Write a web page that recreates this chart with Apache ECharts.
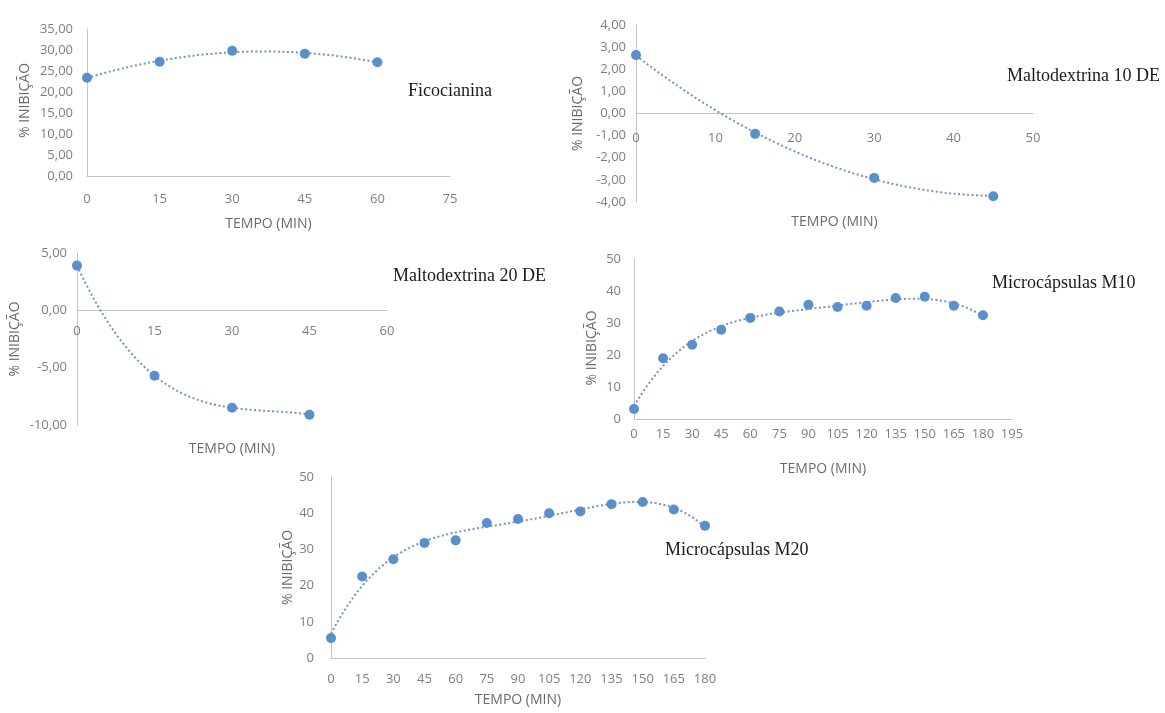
<!DOCTYPE html>
<html>
<head>
<meta charset="utf-8">
<script src="https://cdn.jsdelivr.net/npm/echarts@6/dist/echarts.min.js"></script>
<style>html,body{margin:0;padding:0;background:#fff}#c{width:1165px;height:713px}</style>
</head>
<body>
<div id="c"></div>
<script>
// ---- data ----
const ficoX = [0, 15, 30, 45, 60];
const ficoY = [23.4, 27.2, 29.8, 29.1, 27.1];
const m10deX = [0, 15, 30, 45];
const m10deY = [2.64, -0.92, -2.91, -3.74];
const m20deX = [0, 15, 30, 45];
const m20deY = [3.9, -5.7, -8.5, -9.1];
const mcX = [0, 15, 30, 45, 60, 75, 90, 105, 120, 135, 150, 165, 180];
const mc10Y = [3.1, 19.0, 23.2, 27.9, 31.6, 33.6, 35.7, 35.0, 35.4, 37.8, 38.2, 35.4, 32.4];
const mc20Y = [5.5, 22.5, 27.3, 31.8, 32.5, 37.3, 38.4, 40.0, 40.5, 42.5, 43.1, 41.0, 36.5];
const titles = ['Ficocianina', 'Maltodextrina 10 DE', 'Maltodextrina 20 DE', 'Microcápsulas M10', 'Microcápsulas M20'];
const xTitle = 'TEMPO (MIN)';
const yTitle = '% INIBIÇÃO';

// ---- polynomial least squares trendline (from the data) ----
function polyfit(xs, ys, deg, scale) {
  const n = deg + 1;
  const A = [];
  for (let i = 0; i < n; i++) { A.push(new Array(n + 1).fill(0)); }
  xs.forEach((x0, k) => {
    const x = x0 / scale;
    for (let i = 0; i < n; i++) {
      for (let j = 0; j < n; j++) A[i][j] += Math.pow(x, i + j);
      A[i][n] += ys[k] * Math.pow(x, i);
    }
  });
  for (let i = 0; i < n; i++) {
    let p = i;
    for (let r = i + 1; r < n; r++) if (Math.abs(A[r][i]) > Math.abs(A[p][i])) p = r;
    [A[i], A[p]] = [A[p], A[i]];
    for (let r = 0; r < n; r++) {
      if (r === i) continue;
      const f = A[r][i] / A[i][i];
      for (let c = i; c <= n; c++) A[r][c] -= f * A[i][c];
    }
  }
  const coef = A.map((row, i) => row[n] / row[i]);
  return x => coef.reduce((s, c, i) => s + c * Math.pow(x / scale, i), 0);
}
function trend(xs, ys, deg) {
  const f = polyfit(xs, ys, deg, xs[xs.length - 1]);
  const out = [];
  const x0 = xs[0], x1 = xs[xs.length - 1];
  for (let i = 0; i <= 120; i++) { const x = x0 + (x1 - x0) * i / 120; out.push([x, f(x)]); }
  return out;
}

const panels = [
  {xs: ficoX, ys: ficoY, deg: 2, grid: {left: 87, top: 29, width: 363, height: 147},
   x: {min: 0, max: 75, interval: 15, margin: 17, nameGap: 41}, y: {min: 0, max: 35, interval: 5, margin: 14, nameGap: 55, dec: true, pad: 4},
   t: [408, 93]},
  {xs: m10deX, ys: m10deY, deg: 2, grid: {left: 636, top: 25, width: 397, height: 177},
   x: {min: 0, max: 50, interval: 10, margin: 18, nameGap: 102}, y: {min: -4, max: 4, interval: 1, margin: 10, nameGap: 51, dec: true, pad: 0},
   t: [1007, 78]},
  {xs: m20deX, ys: m20deY, deg: 3, grid: {left: 77, top: 253, width: 310, height: 172},
   x: {min: 0, max: 60, interval: 15, margin: 14, nameGap: 132}, y: {min: -10, max: 5, interval: 5, margin: 10, nameGap: 55, dec: true, pad: 0},
   t: [393, 278]},
  {xs: mcX, ys: mc10Y, deg: 4, grid: {left: 634, top: 259, width: 378, height: 160},
   x: {min: 0, max: 195, interval: 15, margin: 9, nameGap: 43}, y: {min: 0, max: 50, interval: 10, margin: 13, nameGap: 35, dec: false, pad: -18},
   t: [992, 285]},
  {xs: mcX, ys: mc20Y, deg: 4, grid: {left: 331, top: 477, width: 374, height: 181},
   x: {min: 0, max: 180, interval: 15, margin: 15, nameGap: 35}, y: {min: 0, max: 50, interval: 10, margin: 17, nameGap: 36, dec: false, pad: 0},
   t: [665, 552]}
];

const labelFont = 'Open Sans';
const grey = '#7f7f7f';
const axisColor = '#c4c4c4';
const dotColor = '#5b8fcc';
const lineColor = '#7393c0';

const option = {grid: [], xAxis: [], yAxis: [], series: [], graphic: [], animation: false};
panels.forEach((p, i) => {
  option.grid.push(Object.assign({containLabel: false}, p.grid));
  // place the horizontal axis on the value-zero line (Excel style) by shifting it up
  const zeroShift = p.y.min < 0 ? -p.grid.height * (0 - p.y.min) / (p.y.max - p.y.min) : 0;
  option.xAxis.push({
    type: 'value', gridIndex: i, min: p.x.min, max: p.x.max, interval: p.x.interval,
    position: 'bottom', offset: zeroShift,
    name: xTitle, nameLocation: 'middle', nameGap: p.x.nameGap,
    nameTextStyle: {color: '#6b6b6b', fontFamily: labelFont, fontSize: 14},
    axisLine: {onZero: false, lineStyle: {color: axisColor, width: 1}},
    axisTick: {show: false}, splitLine: {show: false},
    axisLabel: {color: grey, fontFamily: labelFont, fontSize: 13, margin: p.x.margin}
  });
  option.yAxis.push({
    type: 'value', gridIndex: i, min: p.y.min, max: p.y.max, interval: p.y.interval,
    name: yTitle, nameLocation: 'middle', nameGap: p.y.nameGap,
    nameTextStyle: {color: '#6b6b6b', fontFamily: labelFont, fontSize: 14,
      padding: p.y.pad >= 0 ? [0, 0, 0, p.y.pad] : [0, -p.y.pad, 0, 0]},
    axisLine: {show: true, onZero: false, lineStyle: {color: axisColor, width: 1}},
    axisTick: {show: false}, splitLine: {show: false},
    axisLabel: {color: grey, fontFamily: labelFont, fontSize: 13, margin: p.y.margin,
      formatter: v => p.y.dec ? v.toFixed(2).replace('.', ',') : String(v)}
  });
  option.series.push({
    type: 'line', xAxisIndex: i, yAxisIndex: i, data: trend(p.xs, p.ys, p.deg),
    showSymbol: false, silent: true, z: 1,
    lineStyle: {color: lineColor, width: 2, type: [2, 2.5]}
  });
  option.series.push({
    type: 'scatter', xAxisIndex: i, yAxisIndex: i, data: p.xs.map((x, k) => [x, p.ys[k]]),
    symbol: 'circle', symbolSize: 10, z: 3,
    itemStyle: {color: dotColor, opacity: 1}
  });
  option.graphic.push({
    type: 'text', left: p.t[0], top: p.t[1] - 11,
    style: {text: titles[i], font: '18px "Liberation Serif", "Times New Roman", serif', fill: '#1a1a1a'}
  });
});

const chart = echarts.init(document.getElementById('c'), null, {renderer: 'canvas'});
chart.setOption(option);
</script>
</body>
</html>
